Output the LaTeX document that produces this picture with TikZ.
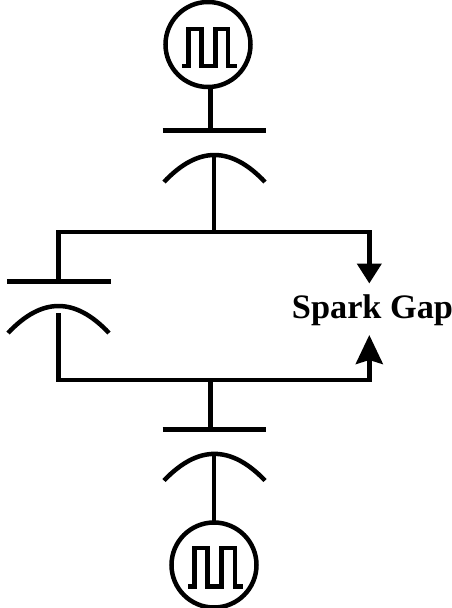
\documentclass[tikz,border=0pt]{standalone}
\usepackage{fontspec}
\setmainfont{Liberation Serif}
\usetikzlibrary{arrows.meta}
\tikzset{
  wire/.style={line width=4.5pt,line join=miter,black},
  capplate/.style={line width=4.5pt,black},
  source/.style={circle,draw=black,line width=4.5pt,minimum size=85pt,inner sep=0pt,outer sep=0pt,fill=none},
  pulse/.style={line width=4.5pt,line join=miter,black},
  downtip/.style={-{Triangle[length=20pt,width=24pt]}},
  uptip/.style={-{Stealth[length=29pt,width=27pt,inset=4pt]}},
  gaplabel/.style={font=\fontsize{34.3}{36}\selectfont\bfseries,inner sep=0pt,anchor=center}
}
\begin{document}
\begin{tikzpicture}[x=1pt,y=-1pt]
\useasboundingbox (0,0) rectangle (452,608);
% sources
\node[source] (srcT) at (208,44.5) {};
\node[source] (srcB) at (214,565) {};
% named points
\coordinate (ptT) at (210.7,130.7);
\coordinate (ptL1) at (162.7,130.7);
\coordinate (ptR1) at (266,130.7);
\coordinate (arcT) at (214,155);
\coordinate (wireT) at (214,232);
\coordinate (cornerTL) at (58.7,232);
\coordinate (cornerTR) at (369.3,232);
\coordinate (cornerBL) at (58.7,380);
\coordinate (cornerBR) at (369.3,380);
\coordinate (gapT) at (369.3,283.5);
\coordinate (gapB) at (369.3,335);
\coordinate (ptLc) at (58.7,281.7);
\coordinate (arcL) at (58.7,313);
\coordinate (ptB) at (210.7,429.3);
\coordinate (wireB) at (210.7,380);
\coordinate (arcB) at (214,454);
% top capacitor
\draw[wire] (srcT.south -| ptT) -- (ptT);
\draw[capplate] (ptL1) -- (ptR1);
\draw[wire] (164,182) .. controls (198,146) and (231,146) .. (265,182);
\draw[wire] (arcT) -- (wireT);
% left capacitor
\draw[capplate] (7,281.7) -- (110.7,281.7);
\draw[wire] (8,333) .. controls (42,297) and (75,297) .. (109,333);
% loop
\draw[wire,downtip] (ptLc) -- (cornerTL) -- (cornerTR) -- (gapT);
\draw[wire,uptip] (arcL) -- (cornerBL) -- (cornerBR) -- (gapB);
% bottom capacitor
\draw[wire] (wireB) -- (ptB);
\draw[capplate] (162.7,429.3) -- (266,429.3);
\draw[wire] (164,480.5) .. controls (198,445) and (231,445) .. (265,480.5);
\draw[wire] (arcB) -- (srcB.north);
% pulses
\draw[pulse] (182,66) -- (188.5,66) -- (188.5,29) -- (201.7,29) -- (201.7,66) -- (215.7,66) -- (215.7,29) -- (228,29) -- (228,66) -- (236.7,66);
\draw[pulse] (188,586.7) -- (194.3,586.7) -- (194.3,548) -- (207.3,548) -- (207.3,586.7) -- (221.7,586.7) -- (221.7,548) -- (235,548) -- (235,586.7) -- (243,586.7);
% label
\node[gaplabel] (gap) at (372.5,310) {Spark Gap};
\end{tikzpicture}
\end{document}
